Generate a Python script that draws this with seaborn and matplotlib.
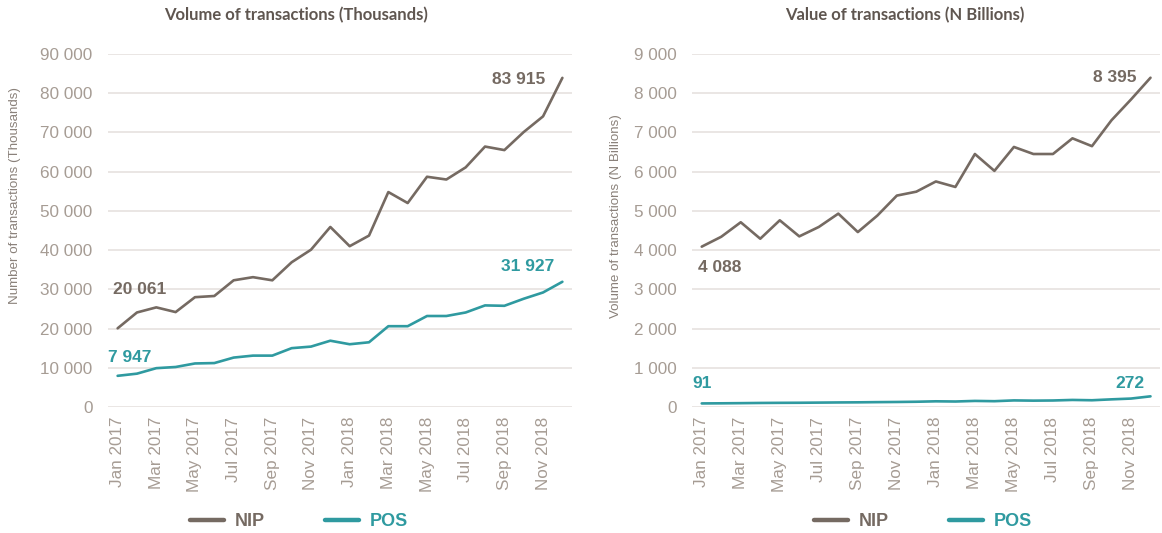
import numpy as np
import pandas as pd
import seaborn as sns
import matplotlib.pyplot as plt
from matplotlib.ticker import FuncFormatter, MultipleLocator

months = ["Jan 2017", "Feb 2017", "Mar 2017", "Apr 2017", "May 2017", "Jun 2017",
          "Jul 2017", "Aug 2017", "Sep 2017", "Oct 2017", "Nov 2017", "Dec 2017",
          "Jan 2018", "Feb 2018", "Mar 2018", "Apr 2018", "May 2018", "Jun 2018",
          "Jul 2018", "Aug 2018", "Sep 2018", "Oct 2018", "Nov 2018", "Dec 2018"]

vol_nip = [20061, 24100, 25400, 24200, 28000, 28300, 32300, 33100, 32300, 36900, 40100, 45900,
           41000, 43700, 54800, 52000, 58700, 58000, 61100, 66400, 65500, 70100, 74100, 83915]
vol_pos = [7947, 8500, 9900, 10200, 11100, 11200, 12600, 13100, 13100, 15000, 15400, 16900,
           16000, 16500, 20600, 20600, 23200, 23200, 24100, 25900, 25800, 27600, 29200, 31927]

val_nip = [4088, 4340, 4710, 4290, 4760, 4350, 4590, 4930, 4460, 4880, 5390, 5490,
           5750, 5610, 6450, 6020, 6630, 6450, 6450, 6850, 6650, 7310, 7840, 8395]
val_pos = [91, 94, 98, 103, 106, 108, 112, 116, 119, 124, 128, 134,
           145, 140, 155, 148, 168, 162, 166, 180, 172, 195, 215, 272]

series = ["NIP", "POS"]
palette = {"NIP": "#756a62", "POS": "#2f9aa0"}
tick_color = "#a69c94"
title_color = "#5f5650"
grid_color = "#e6e2df"

sns.set_theme(style="white")
plt.rcParams['font.family'] = ['Liberation Sans', 'DejaVu Sans']

def long_df(nip, pos):
    return pd.DataFrame({
        "idx": list(range(len(months))) * 2,
        "value": list(nip) + list(pos),
        "series": ["NIP"] * len(nip) + ["POS"] * len(pos),
    })

fig = plt.figure(figsize=(11.62, 5.33), dpi=100)
ax1 = fig.add_axes([0.0929, 0.2364, 0.3994, 0.6623])
ax2 = fig.add_axes([0.5955, 0.2364, 0.4030, 0.6623])

fmt = FuncFormatter(lambda v, p: f"{int(v):,}".replace(",", " "))

configs = [
    (ax1, vol_nip, vol_pos, 90000, 10000, "Number of transactions (Thousands)",
     "Volume of transactions (Thousands)", (-0.188, 0.598), 0.255, 299),
    (ax2, val_nip, val_pos, 9000, 1000, "Volume of transactions (N Billions)",
     "Value of transactions (N Billions)", (-0.150, 0.541), 0.779, 923),
]

for ax, nip, pos, ymax, step, ylab, title, labpos, tx, legx in configs:
    df = long_df(nip, pos)
    sns.lineplot(data=df, x="idx", y="value", hue="series", palette=palette,
                 hue_order=series, linewidth=1.9, ax=ax, legend=True)
    ax.set_xlim(-0.5, 23.5)
    ax.set_ylim(0, ymax)
    ax.yaxis.set_major_locator(MultipleLocator(step))
    ax.yaxis.set_major_formatter(fmt)
    ax.set_xticks(range(0, len(months), 2))
    ax.set_xticklabels(months[::2], rotation=90)
    ax.tick_params(axis='both', colors=tick_color, labelsize=12.3, length=0, pad=7)
    ax.tick_params(axis='y', pad=11)
    ax.grid(axis='y', color=grid_color, linewidth=1.2)
    ax.set_axisbelow(True)
    for s in ax.spines.values():
        s.set_visible(False)
    ax.set_xlabel("")
    ax.set_ylabel(ylab, color="#8a817a", fontsize=9.6)
    ax.yaxis.set_label_coords(*labpos)
    fig.text(tx, 1 - 15 / 533, title, ha="center", va="center", fontsize=12,
             fontweight="bold", color=title_color, family=["Lato", "DejaVu Sans"])
    handles, labels = ax.get_legend_handles_labels()
    ax.legend(handles, labels, loc="center", bbox_to_anchor=(legx / 1162, 1 - 522 / 533),
              bbox_transform=fig.transFigure, ncol=2, frameon=False,
              prop={"weight": "bold", "size": 13}, labelcolor="linecolor",
              handlelength=1.9, columnspacing=3.3, handletextpad=0.6)
    for lh in ax.get_legend().get_lines():
        lh.set_linewidth(3.2)

ann_kw = dict(textcoords="offset points", fontsize=12.5, fontweight="bold", va="center")
last = len(months) - 1
ax1.annotate(f"{vol_nip[0]:,}".replace(",", " "), xy=(0, vol_nip[0]), xytext=(16, 28),
             ha="center", color=palette["NIP"], **ann_kw)
ax1.annotate(f"{vol_nip[-1]:,}".replace(",", " "), xy=(last, vol_nip[-1]), xytext=(-12, -1),
             ha="right", color=palette["NIP"], **ann_kw)
ax1.annotate(f"{vol_pos[0]:,}".replace(",", " "), xy=(0, vol_pos[0]), xytext=(9, 13),
             ha="center", color=palette["POS"], **ann_kw)
ax1.annotate(f"{vol_pos[-1]:,}".replace(",", " "), xy=(last, vol_pos[-1]), xytext=(-6, 11),
             ha="right", color=palette["POS"], **ann_kw)
ax2.annotate(f"{val_nip[0]:,}".replace(",", " "), xy=(0, val_nip[0]), xytext=(13, -15),
             ha="center", color=palette["NIP"], **ann_kw)
ax2.annotate(f"{val_nip[-1]:,}".replace(",", " "), xy=(last, val_nip[-1]), xytext=(-10, 0),
             ha="right", color=palette["NIP"], **ann_kw)
ax2.annotate(f"{val_pos[0]}", xy=(0, val_pos[0]), xytext=(0, 14),
             ha="center", color=palette["POS"], **ann_kw)
ax2.annotate(f"{val_pos[-1]}", xy=(last, val_pos[-1]), xytext=(-4, 9),
             ha="right", color=palette["POS"], **ann_kw)

fig.savefig("out.png", dpi=100, facecolor="white")
